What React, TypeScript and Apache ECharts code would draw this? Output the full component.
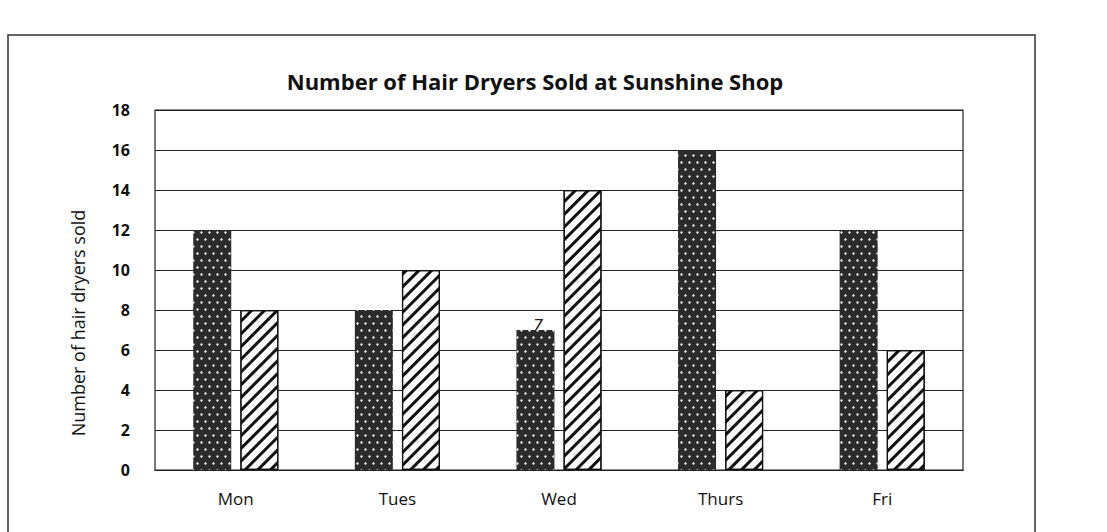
import React, { useEffect, useRef } from "react";
import * as echarts from "echarts";

const days = ["Mon", "Tues", "Wed", "Thurs", "Fri"];
const seriesA = [12, 8, 7, 16, 12];
const seriesB = [8, 10, 14, 4, 6];
const yTicks = [0, 2, 4, 6, 8, 10, 12, 14, 16, 18];

const TITLE = "Number of Hair Dryers Sold at Sunshine Shop";
const Y_NAME = "Number of hair dryers sold";

export default function App() {
  const ref = useRef<HTMLDivElement>(null);
  useEffect(() => {
    document.body.style.margin = "0";
    const chart = echarts.init(ref.current!, null, { renderer: "svg" });
    chart.setOption({
      animation: false,
      backgroundColor: "#ffffff",
      grid: {
        left: 155,
        right: 144,
        top: 110,
        bottom: 62,
        show: true,
        borderColor: "#222",
        borderWidth: 1.2,
      },
      xAxis: {
        type: "category",
        data: days,
        axisLine: { show: true, lineStyle: { color: "#222", width: 1.2 } },
        axisTick: { show: false },
        axisLabel: {
          color: "#111",
          fontFamily: "Open Sans",
          fontSize: 17,
          margin: 20,
        },
      },
      yAxis: {
        type: "value",
        min: 0,
        max: yTicks[yTicks.length - 1],
        interval: 2,
        axisLine: { show: false },
        axisTick: { show: false },
        splitLine: { show: true, lineStyle: { color: "#222", width: 1.2 } },
        axisLabel: {
          color: "#111",
          fontFamily: "Open Sans",
          fontWeight: "bold",
          fontSize: 16,
          margin: 25,
        },
      },
      series: [
        {
          type: "bar",
          data: seriesA,
          barWidth: 38,
          barGap: "24%",
          itemStyle: {
            color: "#2b2b2b",
            decal: {
              symbol: "circle",
              symbolSize: 0.8,
              color: "#ffffff",
              dashArrayX: [[3, 5], [0, 4, 3, 1]],
              dashArrayY: [3, 4],
            },
          },
        },
        {
          type: "bar",
          data: seriesB,
          barWidth: 38,
          itemStyle: {
            color: "#ffffff",
            borderColor: "#111",
            borderWidth: 1.2,
            decal: {
              symbol: "rect",
              symbolSize: 1,
              color: "#111",
              rotation: -Math.PI / 4,
              dashArrayX: [1, 0],
              dashArrayY: [2.8, 6],
            },
          },
        },
      ],
      graphic: [
        {
          type: "rect",
          shape: { x: 8, y: 35, width: 1027, height: 520 },
          style: { fill: "none", stroke: "#333", lineWidth: 1.5 },
          silent: true,
        },
        {
          type: "text",
          x: 535,
          y: 81,
          style: {
            text: TITLE,
            fontFamily: "Open Sans",
            fontWeight: "bold",
            fontSize: 22,
            fill: "#111",
            align: "center",
            verticalAlign: "middle",
          },
        },
        {
          type: "text",
          x: 78,
          y: 323,
          rotation: Math.PI / 2,
          style: {
            text: Y_NAME,
            fontFamily: "Open Sans",
            fontSize: 18,
            fill: "#111",
            align: "center",
            verticalAlign: "middle",
          },
        },
        {
          type: "text",
          x: 538,
          y: 325,
          style: {
            text: "7",
            fontFamily: "DejaVu Sans",
            fontStyle: "italic",
            fontSize: 16,
            fill: "#222",
            align: "center",
            verticalAlign: "middle",
          },
        },
      ],
    });
    return () => chart.dispose();
  }, []);
  return <div ref={ref} style={{ width: 1107, height: 532 }} />;
}
